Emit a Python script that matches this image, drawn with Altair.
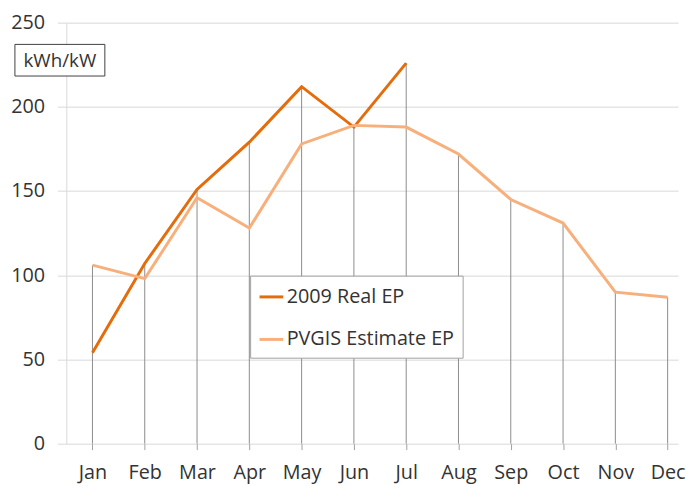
import altair as alt
import pandas as pd

months = ["Jan", "Feb", "Mar", "Apr", "May", "Jun", "Jul", "Aug", "Sep", "Oct", "Nov", "Dec"]
real_ep = [54, 107, 151, 179, 212, 188, 226]
pvgis_ep = [106, 98, 146, 128, 178, 189, 188, 172, 145, 131, 90, 87]
series_names = ["2009 Real EP", "PVGIS Estimate EP"]
series_colors = ["#E46C0A", "#F7B07C"]

rows = []
for i, v in enumerate(real_ep):
    rows.append({"idx": i, "month": months[i], "value": v, "series": series_names[0]})
for i, v in enumerate(pvgis_ep):
    rows.append({"idx": i, "month": months[i], "value": v, "series": series_names[1]})
df = pd.DataFrame(rows)

tops = []
for i in range(len(months)):
    vals = [pvgis_ep[i]] + ([real_ep[i]] if i < len(real_ep) else [])
    tops.append({"idx": i, "top": max(vals), "zero": 0})
df_top = pd.DataFrame(tops)

label_expr = "[" + ",".join("'" + m + "'" for m in months) + "][datum.value]"
FONT = "Open Sans"
TXT = "#333333"

xscale = alt.Scale(domain=[-0.5, 11.2], nice=False, zero=False)
yscale = alt.Scale(domain=[0, 250], nice=False)

xaxis = alt.Axis(values=list(range(12)), labelExpr=label_expr, grid=False, domain=False,
                 tickSize=6, tickColor="#A0A0A0", labelPadding=13, labelFontSize=20,
                 labelFont=FONT, labelColor=TXT, title=None)
yaxis = alt.Axis(values=[0, 50, 100, 150, 200, 250], grid=True, gridColor="#D9D9D9",
                 domainColor="#D9D9D9", tickColor="#D9D9D9", tickSize=9, labelPadding=13,
                 labelFontSize=20, labelFont=FONT, labelColor=TXT, title=None)

drops = alt.Chart(df_top).mark_rule(color="#8C8C8C", strokeWidth=1).encode(
    x=alt.X("idx:Q", scale=xscale, axis=xaxis),
    y=alt.Y("top:Q", scale=yscale, axis=yaxis),
    y2="zero:Q",
)

lines = alt.Chart(df).mark_line(strokeWidth=3).encode(
    x=alt.X("idx:Q", scale=xscale),
    y=alt.Y("value:Q", scale=yscale),
    color=alt.Color("series:N", scale=alt.Scale(domain=series_names, range=series_colors),
                    legend=alt.Legend(orient="none", legendX=186, legendY=256, title=None,
                                      symbolType="stroke", symbolStrokeWidth=3, symbolSize=576,
                                      labelFontSize=20, labelFont=FONT, labelColor=TXT,
                                      fillColor="white", strokeColor="#A0A0A0", padding=8,
                                      rowPadding=19, labelOffset=2, symbolOffset=0,
                                      labelLimit=300)),
)

unit_box = alt.Chart(pd.DataFrame({"a": [0]})).mark_rect(
    fill="white", stroke="#404040", strokeWidth=1
).encode(x=alt.value(-52), x2=alt.value(39), y=alt.value(22), y2=alt.value(54))

unit_text = alt.Chart(pd.DataFrame({"t": ["kWh/kW"]})).mark_text(
    fontSize=19, font=FONT, color=TXT, align="center", baseline="middle"
).encode(x=alt.value(-6.5), y=alt.value(38.5), text="t:N")

chart = alt.layer(drops, lines, unit_box, unit_text).properties(
    width=619, height=426,
    autosize=alt.AutoSizeParams(type="none"),
    padding={"left": 59, "top": 12, "right": 8, "bottom": 40},
).configure_view(stroke=None)

chart.save("out.html", embed_options={"renderer": "svg", "actions": False})
